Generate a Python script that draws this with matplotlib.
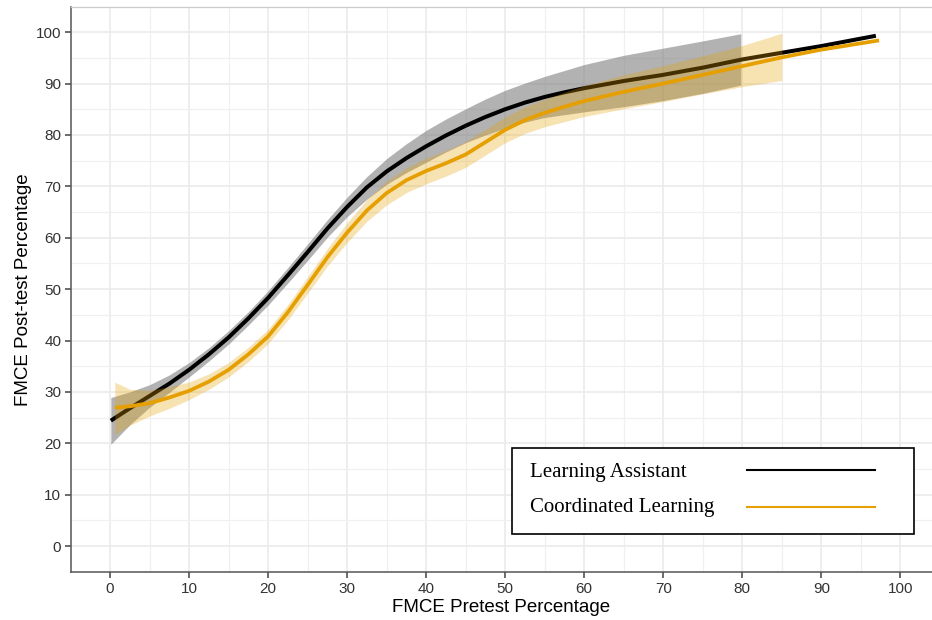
import matplotlib.pyplot as plt
from matplotlib.patches import Rectangle
from matplotlib.lines import Line2D

# smoothed fits of post-test vs pretest score, with confidence bands
la_x = [0.1, 2.5, 5, 7.5, 10, 12.5, 15, 17.5, 20, 22.5, 25, 27.5, 30, 32.5,
        35, 37.5, 40, 42.5, 45, 47.5, 50, 52.5, 55, 57.5, 60, 62.5, 65, 67.5,
        70, 75, 80, 85, 90, 96.9]
la_fit = [24.4, 26.8, 29.2, 31.6, 34.3, 37.3, 40.6, 44.3, 48.3, 52.7, 57.2,
          61.8, 66.0, 69.8, 72.9, 75.5, 77.8, 79.9, 81.8, 83.5, 85.0, 86.3,
          87.4, 88.3, 89.1, 89.8, 90.5, 91.1, 91.7, 93.1, 94.7, 96.0, 97.3,
          99.3]

la_band_x = [0.1, 2.5, 5, 7.5, 10, 12.5, 15, 17.5, 20, 22.5, 25, 27.5, 30,
             32.5, 35, 37.5, 40, 42.5, 45, 47.5, 50, 52.5, 55, 60, 65, 70, 75,
             79.8]
la_lo = [19.8, 23.6, 27.0, 29.9, 32.9, 36.0, 39.3, 43.0, 46.9, 51.2, 55.6,
         60.1, 64.1, 67.5, 70.4, 72.7, 74.7, 76.7, 78.5, 80.0, 81.3, 82.5,
         83.4, 84.5, 85.5, 86.7, 88.1, 89.7]
la_hi = [28.9, 30.0, 31.4, 33.3, 35.7, 38.6, 41.9, 45.6, 49.7, 54.2, 58.8,
         63.5, 67.9, 71.9, 75.4, 78.3, 80.9, 83.1, 85.1, 87.0, 88.7, 90.1,
         91.4, 93.7, 95.5, 96.9, 98.3, 99.7]

cl_x = [0.6, 2.5, 5, 7.5, 10, 12.5, 15, 17.5, 20, 22.5, 25, 27.5, 30, 32.5,
        35, 37.5, 40, 42.5, 45, 47.5, 50, 52.5, 55, 57.5, 60, 62.5, 65, 70,
        75, 80, 85, 90, 97.3]
cl_fit = [26.9, 27.2, 27.8, 28.9, 30.2, 32.0, 34.3, 37.3, 40.8, 45.5, 50.8,
          56.2, 61.0, 65.3, 68.7, 71.2, 73.0, 74.5, 76.2, 78.6, 81.0, 82.9,
          84.3, 85.5, 86.6, 87.5, 88.4, 90.0, 91.7, 93.4, 95.1, 96.6, 98.4]

cl_band_x = [0.6, 2.5, 5, 7.5, 10, 12.5, 15, 17.5, 20, 22.5, 25, 27.5, 30,
             32.5, 35, 37.5, 40, 42.5, 45, 47.5, 50, 52.5, 55, 60, 65, 70, 75,
             80, 85]
cl_lo = [21.7, 23.5, 25.3, 26.8, 28.5, 30.5, 32.9, 35.9, 39.4, 44.0, 49.2,
         54.5, 59.1, 63.2, 66.4, 68.8, 70.5, 72.0, 73.7, 76.1, 78.5, 80.3,
         81.6, 83.6, 85.1, 86.5, 88.0, 89.4, 90.6]
cl_hi = [31.9, 30.5, 30.3, 31.0, 31.9, 33.5, 35.7, 38.7, 42.2, 47.0, 52.4,
         57.9, 62.9, 67.4, 71.0, 73.6, 75.5, 77.0, 78.7, 81.1, 83.5, 85.5,
         87.0, 89.6, 91.7, 93.5, 95.4, 97.4, 99.8]

labels = ["Learning Assistant", "Coordinated Learning"]
line_colors = ["black", "#E69F00"]
band_colors = ["#7f7f7f", "#E69F00"]
band_alpha = [0.6, 0.3]

x_ticks = list(range(0, 101, 10))
y_ticks = list(range(0, 101, 10))

fig = plt.figure(figsize=(9.32, 6.2), dpi=100)
ax = fig.add_axes([71 / 932, 1 - 572 / 620, 1 - 71 / 932, (572 - 7) / 620])

groups = [(la_band_x, la_lo, la_hi, la_x, la_fit),
          (cl_band_x, cl_lo, cl_hi, cl_x, cl_fit)]
for i, (bx, lo, hi, lx, fit) in enumerate(groups):
    ax.fill_between(bx, lo, hi, color=band_colors[i], alpha=band_alpha[i],
                    linewidth=0, zorder=2 + i)
    ax.plot(lx, fit, color=line_colors[i], lw=2.9 if i == 0 else 2.7,
            solid_capstyle="butt", solid_joinstyle="round", zorder=2 + i)

ax.set_xticks(x_ticks)
ax.set_yticks(y_ticks)
ax.set_xticks([t + 5 for t in x_ticks], minor=True)
ax.set_yticks([t + 5 for t in y_ticks], minor=True)
# limits after the ticks, otherwise set_xticks widens them
ax.set_xlim(-4.94, 104.0)
ax.set_ylim(-5.05, 104.9)
ax.grid(which="major", color="#ebebeb", lw=1.2, zorder=0)
ax.grid(which="minor", color="#f0f0f0", lw=0.9, zorder=0)
ax.set_axisbelow(True)

for s in ["left", "bottom"]:
    ax.spines[s].set_color("#555555")
    ax.spines[s].set_linewidth(1.1)
ax.spines["top"].set_color("#cccccc")
ax.spines["top"].set_linewidth(0.9)
ax.spines["right"].set_visible(False)

ax.tick_params(which="major", length=4, width=1.1, color="#444444",
               labelsize=11, labelcolor="#333333", pad=3)
ax.tick_params(which="minor", length=0)
for lab in ax.get_xticklabels() + ax.get_yticklabels():
    lab.set_fontfamily("Liberation Sans")

ax.set_xlabel("FMCE Pretest Percentage", fontsize=13.5,
              family="Liberation Sans", labelpad=2)
ax.set_ylabel("FMCE Post-test Percentage", fontsize=13.5,
              family="Liberation Sans", labelpad=3)

# legend box, labels on the left and keys on the right
fig.patches.append(Rectangle((512 / 932, 1 - 534 / 620), 402 / 932, 86 / 620,
                             transform=fig.transFigure, facecolor="white",
                             edgecolor="black", lw=1.2, zorder=10))
for i, lab in enumerate(labels):
    ty = 1 - (472.5 + 35 * i) / 620
    ly = 1 - (470 + 37 * i) / 620
    fig.text(530 / 932, ty, lab, family="Liberation Serif", fontsize=15,
             va="center", ha="left", zorder=11)
    fig.lines.append(Line2D([747 / 932, 875 / 932], [ly, ly],
                            transform=fig.transFigure, color=line_colors[i],
                            lw=1.5, zorder=11))

fig.savefig("out.png", dpi=100)
